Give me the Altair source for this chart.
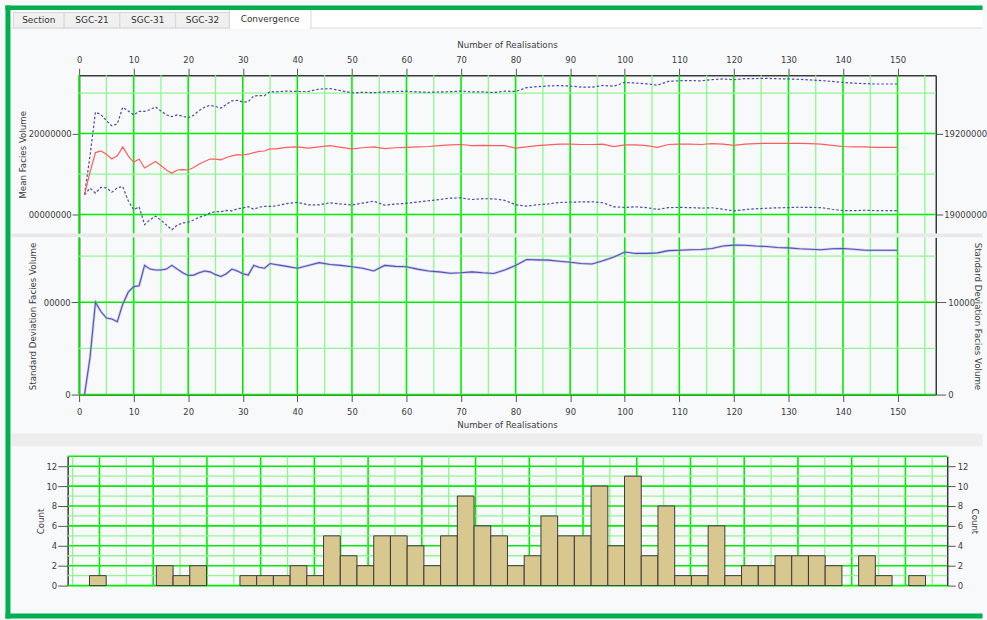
import altair as alt
import numpy as np
import pandas as pd

# ---------------------------------------------------------------------------
# Convergence statistics of facies volume over the realisations (millions m3)
# ---------------------------------------------------------------------------
REALISATION = list(range(1, 39)) + list(range(40, 151, 2))

MEAN_FACIES_VOL_M = [
    1904.9, 1910.5, 1915.3, 1915.7, 1914.9, 1913.7, 1914.5, 1916.7, 1914.5, 1912.9,
    1913.7, 1911.5, 1912.3, 1913.1, 1912.1, 1911.0, 1910.2, 1911.0, 1911.1, 1911.0,
    1911.6, 1912.5, 1913.1, 1913.7, 1913.7, 1913.5, 1914.1, 1914.5, 1914.8, 1914.7,
    1914.9, 1915.3, 1915.6, 1915.7, 1916.2, 1916.2, 1916.4, 1916.6,
    1916.7, 1916.4, 1916.7, 1917.0, 1916.6, 1916.2, 1916.5, 1916.7, 1916.3, 1916.5,
    1916.6, 1916.7, 1916.8, 1917.0, 1917.2, 1917.3, 1917.0, 1917.1, 1917.0, 1917.0,
    1916.4, 1916.7, 1917.0, 1917.2, 1917.4, 1917.4, 1917.3, 1917.3, 1917.4, 1916.8,
    1917.2, 1917.2, 1917.0, 1916.6, 1917.3, 1917.4, 1917.4, 1917.3, 1917.5, 1917.4,
    1917.1, 1917.4, 1917.5, 1917.6, 1917.6, 1917.6, 1917.6, 1917.5, 1917.4, 1917.1,
    1916.8, 1916.7, 1916.7, 1916.6, 1916.6, 1916.6,
]

STD_FACIES_VOL_M = [
    0.0, 4.0, 10.0, 9.0, 8.3, 8.2, 7.9, 9.8, 11.1, 11.7,
    11.8, 14.0, 13.6, 13.5, 13.5, 13.6, 14.0, 13.6, 13.2, 12.9,
    12.95, 13.2, 13.4, 13.3, 13.0, 12.8, 13.1, 13.6, 13.4, 13.1,
    12.95, 14.0, 13.8, 13.7, 14.2, 14.1, 14.0, 13.9,
    13.7, 14.0, 14.3, 14.1, 14.0, 13.85, 13.7, 13.4, 14.0, 13.9,
    13.85, 13.6, 13.4, 13.3, 13.15, 13.2, 13.3, 13.2, 13.13, 13.5,
    14.0, 14.64, 14.6, 14.57, 14.45, 14.35, 14.2, 14.15, 14.5, 14.9,
    15.45, 15.3, 15.3, 15.36, 15.6, 15.65, 15.7, 15.72, 15.83, 16.1,
    16.2, 16.19, 16.1, 16.05, 15.95, 15.9, 15.8, 15.75, 15.7, 15.8,
    15.83, 15.75, 15.65, 15.65, 15.65, 15.65,
]

# Histogram of facies volume over all 150 realisations (50 equal bins)
HIST_COUNTS = [
    1, 0, 0, 0, 2, 1, 2, 0, 0, 1,
    1, 1, 2, 1, 5, 3, 2, 5, 5, 4,
    2, 5, 9, 6, 5, 2, 3, 7, 5, 5,
    10, 4, 11, 3, 8, 1, 1, 6, 1, 2,
    2, 3, 3, 3, 2, 0, 3, 1, 0, 1,
]
HIST_MIN_M, HIST_MAX_M = 1874.07, 1951.87

TAB_LABELS = ["Section", "SGC-21", "SGC-31", "SGC-32", "Convergence"]
REAL_TICKS = list(range(0, 151, 10))
MEAN_TICKS_M = [1900, 1920]
STD_TICKS_M = [0, 10]
COUNT_TICKS = list(range(0, 13, 2))
VOL_TICKS_M = list(range(1875, 1951, 5))
X_TITLE = "Number of Realisations"

# ---------------------------------------------------------------------------
# Styling and layout
# ---------------------------------------------------------------------------
FONT = "DejaVu Sans"
LABEL_SIZE = 8.5
TITLE_SIZE = 8.7
INK = "#3c3c3c"
AXIS_LINE = "#3a3a3a"
TICK_INK = "#555555"
GREEN_MAJOR = "#00ee00"
GREEN_MINOR = "#8ef88e"
PANEL_BG = "#f8f9fb"
FRAME_GREEN = "#00b050"

PAGE_W, PAGE_H = 987, 620
X0, Y0 = 79, 74            # top-left corner of the convergence plots on the page
CONV_W, MEAN_H, STD_H, SPLIT = 861, 159, 158, 4
HIST_W, HIST_H = 884, 130
SPACER_H = 54

n_scale = alt.Scale(domain=[0, 157], nice=False, zero=False)
mean_scale = alt.Scale(domain=[1895.33e6, 1934.43e6], nice=False, zero=False)
std_scale = alt.Scale(domain=[0, 17.04e6], nice=False, zero=False)
vol_scale = alt.Scale(domain=[1872.04e6, 1953.89e6], nice=False, zero=False)
count_scale = alt.Scale(domain=[0, 13], nice=False, zero=False)

conv = pd.DataFrame({
    "n": REALISATION,
    "mean": np.array(MEAN_FACIES_VOL_M) * 1e6,
    "std": np.array(STD_FACIES_VOL_M) * 1e6,
})
conv["upper"] = conv["mean"] + conv["std"]
conv["lower"] = conv["mean"] - conv["std"]

edges = np.linspace(HIST_MIN_M, HIST_MAX_M, len(HIST_COUNTS) + 1) * 1e6
hist = pd.DataFrame({"lo": edges[:-1], "hi": edges[1:], "count": HIST_COUNTS})
hist = hist[hist["count"] > 0]

ONE = alt.Data(values=[{}])


def page_rect(x0, y0, x1, y1, fill, stroke=None, opacity=1.0):
    """Rectangle given in page pixels, drawn from the first panel."""
    kw = dict(fill=fill, opacity=opacity)
    if stroke:
        kw.update(stroke=stroke, strokeWidth=1)
    return alt.Chart(ONE).mark_rect(**kw).encode(
        x=alt.value(x0 - X0), x2=alt.value(x1 - X0),
        y=alt.value(y0 - Y0), y2=alt.value(y1 - Y0),
    )


def page_text(text, cx, cy, size=9, color="#333333"):
    return alt.Chart(ONE).mark_text(
        text=text, font=FONT, fontSize=size, color=color,
        align="center", baseline="middle",
    ).encode(x=alt.value(cx - X0), y=alt.value(cy - Y0))


def rules(values, channel, scale, color, width, axis=None):
    df = pd.DataFrame({"g": values})
    enc = (alt.X if channel == "x" else alt.Y)("g:Q", scale=scale, axis=axis)
    return alt.Chart(df).mark_rule(color=color, strokeWidth=width).encode(**{channel: enc})


def y_axis(orient, values, expr, tick, pad, title=None, tx=0, ty=0):
    kw = dict(orient=orient, values=values, format="d", tickSize=tick,
              labelPadding=pad, labelBaseline="middle", grid=False)
    if expr:
        kw["labelExpr"] = expr
    if title:
        kw.update(title=title, titleX=tx, titleY=ty, titleBaseline="middle",
                  titleAngle=-90 if orient == "left" else 90)
    else:
        kw["title"] = None
    return alt.Axis(**kw)


def x_axis(orient, pad):
    return alt.Axis(
        orient=orient, values=REAL_TICKS, format="d", tickSize=7, labelPadding=pad,
        labelBaseline="middle", labelFlush=False, labelOverlap=False, grid=False,
        title=None,
    )


# ---------------------------------------------------------------------------
# Window decoration: tabs, green frame, splitter bands, shared x titles
# ---------------------------------------------------------------------------
tab_edges = [13, 64, 120, 176, 230, 312]
decor = [page_rect(0, 0, PAGE_W, PAGE_H, PANEL_BG, opacity=0)]
decor.append(page_rect(10, 8, PAGE_W, 26, "#ffffff"))
decor.append(page_rect(10, 26, PAGE_W, 27, "#dcdcdc"))
for i, lab in enumerate(TAB_LABELS):
    a, b = tab_edges[i], tab_edges[i + 1]
    if lab == "Convergence":
        decor.append(page_rect(a, 8, b, 27.5, "#ffffff", stroke="#d6d6d6"))
        decor.append(page_rect(a + 0.5, 26, b - 0.5, 28, "#ffffff"))
        decor.append(page_text(lab, (a + b) / 2, 17.5))
    else:
        decor.append(page_rect(a, 11, b, 26.5, "#f0f0f0", stroke="#d6d6d6"))
        decor.append(page_text(lab, (a + b) / 2, 19))
decor += [
    page_rect(10, 233, PAGE_W, 237, "#e9e9e9"),
    page_rect(10, 434, PAGE_W, 447, "#ededed"),
    page_rect(5, 4, PAGE_W, 8.5, FRAME_GREEN),
    page_rect(5, 4, 10, PAGE_H, FRAME_GREEN),
    page_rect(5, 615, PAGE_W, PAGE_H, FRAME_GREEN),
    page_text(X_TITLE, X0 + CONV_W / 2, 44, TITLE_SIZE, INK),
    page_text(X_TITLE, X0 + CONV_W / 2, 425.5, TITLE_SIZE, INK),
]

# ---------------------------------------------------------------------------
# Panel 1: mean facies volume with +/- one standard deviation
# ---------------------------------------------------------------------------
n_major = list(range(0, 151, 10))
n_minor = list(range(5, 156, 10))
top_axis = x_axis("top", 9)

mean_ticks = [v * 1e6 for v in MEAN_TICKS_M]
band_style = dict(color="#4a4aa8", strokeWidth=1.2, strokeDash=[2.5, 2])

lower_line = alt.Chart(conv).mark_line(**band_style).encode(
    x=alt.X("n:Q", scale=n_scale, axis=top_axis),
    y=alt.Y("lower:Q", scale=mean_scale, axis=None),
)
upper_line = alt.Chart(conv).mark_line(**band_style).encode(
    x=alt.X("n:Q", scale=n_scale, axis=top_axis),
    y=alt.Y("upper:Q", scale=mean_scale, axis=None),
)
mean_line = alt.Chart(conv).mark_line(color="#ff5c5c", strokeWidth=1.2).encode(
    x=alt.X("n:Q", scale=n_scale, axis=top_axis),
    y=alt.Y("mean:Q", scale=mean_scale,
            axis=y_axis("left", mean_ticks, "slice(datum.label, -8)", 7, 1,
                        "Mean Facies Volume", -56.5, MEAN_H / 2)),
)
mean_right = alt.Chart(conv).mark_line(opacity=0).encode(
    x=alt.X("n:Q", scale=n_scale, axis=top_axis),
    y=alt.Y("mean:Q", scale=mean_scale,
            axis=y_axis("right", mean_ticks, "slice(datum.label, 0, 8)", 7, 1)),
)

mean_panel = alt.layer(
    *decor,
    rules(n_minor, "x", n_scale, GREEN_MINOR, 1.3, top_axis),
    rules(n_major, "x", n_scale, GREEN_MAJOR, 1.6, top_axis),
    rules([1910e6, 1930e6], "y", mean_scale, GREEN_MINOR, 1.3),
    rules(mean_ticks, "y", mean_scale, GREEN_MAJOR, 1.6),
    lower_line, upper_line, mean_line, mean_right,
).resolve_scale(y="independent").properties(width=CONV_W, height=MEAN_H)

# ---------------------------------------------------------------------------
# Panel 2: standard deviation of facies volume
# ---------------------------------------------------------------------------
std_ticks = [v * 1e6 for v in STD_TICKS_M]
bottom_axis = x_axis("bottom", 10)

std_halo = alt.Chart(conv).mark_line(color="#a8a8e0", strokeWidth=2.6, opacity=0.55).encode(
    x=alt.X("n:Q", scale=n_scale, axis=bottom_axis),
    y=alt.Y("std:Q", scale=std_scale, axis=None),
)
std_line = alt.Chart(conv).mark_line(color="#5252b4", strokeWidth=1.1).encode(
    x=alt.X("n:Q", scale=n_scale, axis=bottom_axis),
    y=alt.Y("std:Q", scale=std_scale,
            axis=y_axis("left", std_ticks, "slice(datum.label, -5)", 8, 1,
                        "Standard Deviation Facies Volume", -46.5, STD_H / 2)),
)
std_right = alt.Chart(conv).mark_line(opacity=0).encode(
    x=alt.X("n:Q", scale=n_scale, axis=bottom_axis),
    y=alt.Y("std:Q", scale=std_scale,
            axis=y_axis("right", std_ticks, "slice(datum.label, 0, 5)", 10, 2,
                        "Standard Deviation Facies Volume", 42, STD_H / 2)),
)
std_panel = alt.layer(
    rules(n_minor, "x", n_scale, GREEN_MINOR, 1.3, bottom_axis),
    rules(n_major, "x", n_scale, GREEN_MAJOR, 1.6, bottom_axis),
    rules([5e6, 15e6], "y", std_scale, GREEN_MINOR, 1.3),
    rules(std_ticks, "y", std_scale, GREEN_MAJOR, 1.6),
    std_halo, std_line, std_right,
).resolve_scale(y="independent").properties(width=CONV_W, height=STD_H)

spacer = alt.Chart(ONE).mark_point(opacity=0).encode(
    x=alt.value(0), y=alt.value(0)
).properties(width=10, height=SPACER_H)

# ---------------------------------------------------------------------------
# Panel 3: histogram of facies volume
# ---------------------------------------------------------------------------
vol_ticks = [v * 1e6 for v in VOL_TICKS_M]
vol_axis = alt.Axis(
    orient="bottom", values=vol_ticks, format="d", tickSize=10, labelPadding=7,
    labelBaseline="middle", labelFlush=False, labelOverlap=False, grid=False,
    labelExpr="(datum.value / 1e6) % 10 == 5 ? datum.label : ''", title=None,
)
vol_major = [v * 1e6 for v in range(1875, 1951, 5)]
vol_minor = [v * 1e6 + 2.5e6 for v in range(1870, 1951, 5)]

bars = alt.Chart(hist).mark_rect(fill="#d8c78f", stroke="#3a3a3a", strokeWidth=1).encode(
    x=alt.X("lo:Q", scale=vol_scale, axis=vol_axis),
    x2="hi:Q",
    y=alt.Y("count:Q", scale=count_scale,
            axis=y_axis("left", COUNT_TICKS, None, 10, 1, "Count", -27.5, HIST_H / 2)),
    y2=alt.datum(0),
)
bars_right = alt.Chart(hist).mark_rect(opacity=0).encode(
    x=alt.X("lo:Q", scale=vol_scale, axis=None),
    x2="hi:Q",
    y=alt.Y("count:Q", scale=count_scale,
            axis=y_axis("right", COUNT_TICKS, None, 8, 2, "Count", 27.5, HIST_H / 2)),
    y2=alt.datum(0),
)
hist_panel = alt.layer(
    rules(vol_minor, "x", vol_scale, GREEN_MINOR, 1.3),
    rules(vol_major, "x", vol_scale, GREEN_MAJOR, 1.6),
    rules(list(range(1, 12, 2)), "y", count_scale, GREEN_MINOR, 1.3),
    rules(list(range(0, 13, 2)) + [13], "y", count_scale, GREEN_MAJOR, 1.6),
    bars, bars_right,
).resolve_scale(y="independent").properties(width=HIST_W, height=HIST_H)

chart = alt.vconcat(
    mean_panel, std_panel, spacer, hist_panel,
    spacing=SPLIT, bounds="flush", center=True,
).properties(padding=0).configure(
    background=PANEL_BG,
).configure_view(
    stroke=None,
).configure_axis(
    labelFont=FONT, labelFontSize=LABEL_SIZE, labelColor=INK,
    titleFont=FONT, titleFontSize=TITLE_SIZE, titleColor=INK, titleFontWeight="normal",
    domainColor=AXIS_LINE, domainWidth=1.5, tickColor=TICK_INK, tickWidth=1,
)

chart.save("out.html", embed_options={"renderer": "svg", "actions": False})
